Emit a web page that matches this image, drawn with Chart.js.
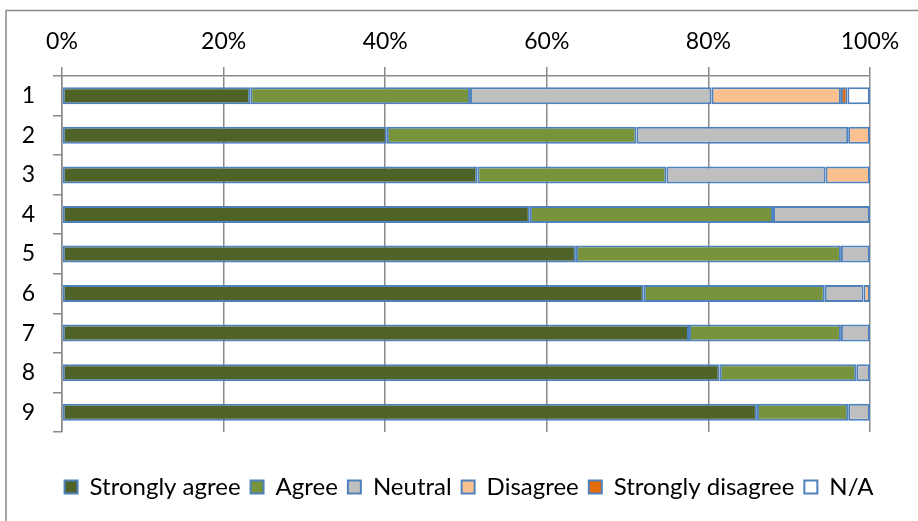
<!DOCTYPE html>
<html>
<head>
<meta charset="utf-8">
<script src="https://cdn.jsdelivr.net/npm/chart.js@4"></script>
<style>
  html, body { margin: 0; padding: 0; background: #fff; }
  canvas { display: block; }
</style>
</head>
<body>
<canvas id="c" width="918" height="521"></canvas>
<script>
const categories = ['1', '2', '3', '4', '5', '6', '7', '8', '9'];
const seriesNames = ['Strongly agree', 'Agree', 'Neutral', 'Disagree', 'Strongly disagree', 'N/A'];
const stronglyAgree    = [23.3, 40.2, 51.4, 57.9, 63.6, 72.0, 77.6, 81.4, 86.0];
const agree            = [27.2, 30.9, 23.4, 30.1, 32.8, 22.4, 18.8, 16.9, 11.3];
const neutral          = [29.9, 26.2, 19.7, 12.0, 3.6, 4.8, 3.6, 1.7, 2.7];
const disagree         = [16.0, 2.7, 5.5, null, null, 0.8, null, null, null];
const stronglyDisagree = [0.8, null, null, null, null, null, null, null, null];
const notApplicable    = [2.8, null, null, null, null, null, null, null, null];
const xTicks = [0, 20, 40, 60, 80, 100];

const colors = ['#4F6228', '#77933C', '#BFBFBF', '#FAC090', '#E46C0A', '#FFFFFF'];
const values = [stronglyAgree, agree, neutral, disagree, stronglyDisagree, notApplicable];

const FONT = "Lato, 'Open Sans', sans-serif";
Chart.defaults.font.family = FONT;
Chart.defaults.color = '#000';

const outerBorder = {
  id: 'outerBorder',
  beforeDraw(chart) {
    const ctx = chart.ctx;
    ctx.save();
    ctx.fillStyle = '#fff';
    ctx.fillRect(0, 0, chart.width, chart.height);
    ctx.strokeStyle = '#898989';
    ctx.lineWidth = 1.5;
    ctx.strokeRect(6, 10.5, 2000, 2000);
    ctx.restore();
  }
};

new Chart(document.getElementById('c'), {
  type: 'bar',
  data: {
    labels: categories,
    datasets: seriesNames.map((name, i) => ({
      label: name,
      data: values[i],
      xAxisID: 'x',
      yAxisID: 'y',
      backgroundColor: colors[i],
      borderColor: '#4F81BD',
      borderWidth: 2,
      borderSkipped: false,
      barPercentage: 0.43,
      categoryPercentage: 1.0
    }))
  },
  options: {
    indexAxis: 'y',
    responsive: false,
    animation: false,
    layout: { padding: { left: 20, right: 0, top: 10, bottom: 12 } },
    plugins: {
      legend: {
        position: 'bottom',
        labels: {
          font: { size: 24 },
          boxWidth: 13,
          boxHeight: 13,
          padding: 10,
          color: '#000'
        }
      },
      tooltip: { enabled: false }
    },
    scales: {
      y: {
        type: 'category',
        stacked: true,
        afterFit(scale) { scale.width = 42; },
        ticks: { font: { size: 23 }, padding: 18, color: '#000' },
        grid: { color: '#8A8A8A', lineWidth: 1.5, tickLength: 9, drawOnChartArea: false, offset: true },
        border: { display: true, color: '#8A8A8A', width: 1.5 }
      },
      x: {
        type: 'linear',
        position: 'top',
        stacked: true,
        min: 0,
        max: 100,
        afterBuildTicks(scale) { scale.ticks = xTicks.map(v => ({ value: v })); },
        afterFit(scale) { scale.height = 66; },
        ticks: {
          font: { size: 23 },
          padding: 12,
          color: '#000',
          callback: v => v + '%'
        },
        grid: { color: '#8A8A8A', lineWidth: 1.5, tickLength: 9, drawOnChartArea: true },
        border: { display: true, color: '#8A8A8A', width: 1.5 }
      },
      xPad: {
        type: 'linear',
        axis: 'x',
        position: 'bottom',
        display: true,
        afterFit(scale) { scale.height = 33; },
        ticks: { display: false },
        grid: { display: false },
        border: { display: false }
      },
      yPad: {
        type: 'linear',
        axis: 'y',
        position: 'right',
        display: true,
        afterFit(scale) { scale.width = 48; },
        ticks: { display: false },
        grid: { display: false },
        border: { display: false }
      }
    }
  },
  plugins: [outerBorder]
});
</script>
</body>
</html>
